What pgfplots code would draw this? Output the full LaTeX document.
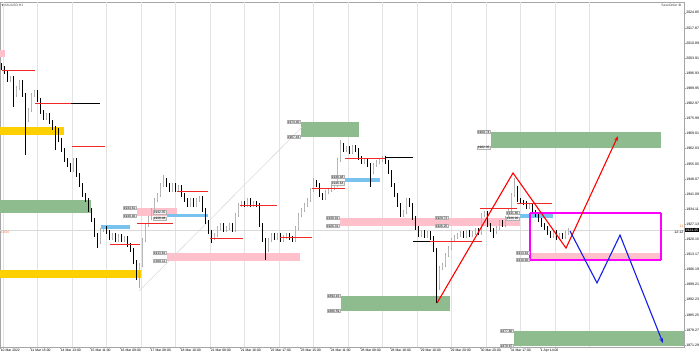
\documentclass[border=0pt]{standalone}
\usepackage{fontspec}
\setmainfont{Liberation Sans}
\newfontfamily\dejavu{DejaVu Sans}
\usepackage{pgfplots}
\pgfplotsset{compat=1.18}
\usepackage{pgfplotstable}
\usetikzlibrary{arrows.meta}
\definecolor{pinkc}{RGB}{255,192,203}
\definecolor{greenc}{RGB}{143,188,143}
\definecolor{bluec}{RGB}{120,194,240}
\definecolor{yellowc}{RGB}{255,208,0}
\definecolor{magc}{RGB}{255,0,255}
\definecolor{redl}{RGB}{240,40,40}
\definecolor{bluel}{RGB}{20,30,230}
\definecolor{orangec}{RGB}{255,110,40}

\pgfplotstableread{
i o h l c
0 2000.5 2001.4 1998.4 1999.3
1 1999.3 2000.2 1996.6 1997.5
2 1997.5 1998.4 1992.8 1993.7
3 1993.7 1995.6 1992.8 1994.7
4 1994.7 1995.6 1981.3 1986.8
5 1986.8 1991.0 1985.9 1990.1
6 1990.1 1993.7 1989.2 1992.8
7 1992.8 1993.7 1985.9 1986.8
8 1986.8 1987.7 1959.1 1975.3
9 1975.3 1980.8 1974.4 1979.9
10 1979.9 1987.7 1979.0 1986.8
11 1986.8 1989.1 1985.9 1988.2
12 1988.2 1989.1 1983.6 1984.5
13 1984.5 1985.4 1978.1 1979.0
14 1979.0 1979.9 1975.3 1976.2
15 1976.2 1978.5 1975.3 1977.6
16 1977.6 1978.5 1973.5 1974.4
17 1974.4 1975.3 1970.7 1971.6
18 1971.6 1972.5 1961.4 1970.7
19 1970.7 1971.6 1965.1 1966.0
20 1966.0 1966.9 1960.5 1961.4
21 1961.4 1962.3 1955.9 1956.8
22 1956.8 1957.7 1953.6 1954.5
23 1954.5 1955.4 1951.3 1952.2
24 1952.2 1957.7 1951.3 1956.8
25 1956.8 1957.7 1949.0 1949.9
26 1949.9 1950.8 1944.3 1945.2
27 1945.2 1946.1 1939.7 1940.6
28 1940.6 1941.5 1937.4 1938.3
29 1938.3 1939.2 1932.8 1933.7
30 1933.7 1934.6 1928.2 1929.1
31 1929.1 1930.0 1921.2 1922.1
32 1922.1 1923.0 1916.1 1918.9
33 1918.9 1925.4 1918.0 1924.5
34 1924.5 1926.3 1923.6 1925.4
35 1925.4 1926.3 1922.6 1923.5
36 1923.5 1924.4 1919.9 1920.8
37 1920.8 1923.0 1919.9 1922.1
38 1922.1 1923.0 1918.9 1919.8
39 1919.8 1922.6 1918.9 1921.7
40 1921.7 1922.6 1918.9 1919.8
41 1919.8 1921.7 1918.9 1920.8
42 1920.8 1921.7 1916.6 1917.5
43 1917.5 1918.4 1914.3 1915.2
44 1915.2 1916.1 1908.8 1909.7
45 1909.7 1910.6 1901.4 1905.1
46 1905.1 1909.2 1897.7 1908.3
47 1908.3 1920.7 1907.4 1919.8
48 1919.8 1927.7 1918.9 1926.8
49 1926.8 1930.9 1925.9 1930.0
50 1930.0 1934.6 1929.1 1933.7
51 1933.7 1939.2 1932.8 1938.3
52 1938.3 1941.5 1937.4 1940.6
53 1940.6 1946.1 1939.7 1945.2
54 1945.2 1949.9 1944.3 1947.6
55 1947.6 1948.5 1944.3 1945.2
56 1945.2 1946.1 1942.0 1942.9
57 1942.9 1946.1 1942.0 1945.2
58 1945.2 1946.1 1942.0 1942.9
59 1942.9 1945.2 1942.0 1944.3
60 1944.3 1945.2 1939.7 1940.6
61 1940.6 1941.5 1937.4 1938.3
62 1938.3 1939.2 1935.1 1936.0
63 1936.0 1939.2 1935.1 1938.3
64 1938.3 1939.2 1935.1 1936.0
65 1936.0 1939.2 1935.1 1938.3
66 1938.3 1940.1 1937.4 1939.2
67 1939.2 1940.1 1932.8 1933.7
68 1933.7 1934.6 1927.3 1928.2
69 1928.2 1929.1 1922.6 1923.5
70 1923.5 1924.4 1918.5 1920.8
71 1920.8 1923.0 1919.9 1922.1
72 1922.1 1926.3 1921.2 1925.4
73 1925.4 1927.7 1924.5 1926.8
74 1926.8 1927.7 1923.6 1924.5
75 1924.5 1926.3 1923.6 1925.4
76 1925.4 1927.7 1924.5 1926.8
77 1926.8 1927.7 1923.6 1924.5
78 1924.5 1932.3 1923.6 1931.4
79 1931.4 1936.9 1930.5 1936.0
80 1936.0 1937.8 1935.1 1936.9
81 1936.9 1937.8 1935.1 1936.0
82 1936.0 1939.2 1935.1 1938.3
83 1938.3 1939.2 1935.1 1936.0
84 1936.0 1937.8 1935.1 1936.9
85 1936.9 1937.8 1935.1 1936.0
86 1936.0 1936.9 1925.9 1926.8
87 1926.8 1927.7 1918.9 1919.8
88 1919.8 1920.7 1910.6 1915.2
89 1915.2 1920.7 1914.3 1919.8
90 1919.8 1923.0 1918.9 1922.1
91 1922.1 1923.0 1919.9 1920.8
92 1920.8 1923.0 1919.9 1922.1
93 1922.1 1923.0 1918.9 1919.8
94 1919.8 1922.1 1918.9 1921.2
95 1921.2 1923.0 1920.3 1922.1
96 1922.1 1923.0 1919.9 1920.8
97 1920.8 1921.7 1918.9 1919.8
98 1919.8 1926.3 1918.9 1925.4
99 1925.4 1932.3 1924.5 1931.4
100 1931.4 1934.6 1930.5 1933.7
101 1933.7 1936.9 1932.8 1936.0
102 1936.0 1939.2 1935.1 1938.3
103 1938.3 1943.8 1937.4 1942.9
104 1942.9 1948.5 1942.0 1946.6
105 1946.6 1947.5 1944.3 1945.2
106 1945.2 1946.1 1939.7 1940.6
107 1940.6 1941.5 1938.3 1939.2
108 1939.2 1942.9 1938.3 1942.0
109 1942.0 1943.8 1941.1 1942.9
110 1942.9 1944.8 1942.0 1943.9
111 1943.9 1946.1 1943.0 1945.2
112 1945.2 1957.7 1944.3 1956.8
113 1956.8 1966.0 1955.9 1963.7
114 1963.7 1964.6 1960.5 1961.4
115 1961.4 1963.2 1960.5 1962.3
116 1962.3 1963.2 1959.6 1960.5
117 1960.5 1963.7 1959.6 1962.8
118 1962.8 1963.7 1960.5 1961.4
119 1961.4 1962.3 1956.8 1957.7
120 1957.7 1958.6 1955.0 1955.9
121 1955.9 1957.7 1955.0 1956.8
122 1956.8 1957.7 1953.6 1954.5
123 1954.5 1955.4 1944.3 1951.2
124 1951.2 1955.4 1950.3 1954.5
125 1954.5 1956.8 1953.6 1955.9
126 1955.9 1957.7 1955.0 1956.8
127 1956.8 1958.6 1955.9 1957.7
128 1957.7 1958.6 1955.0 1955.9
129 1955.9 1956.8 1950.3 1951.2
130 1951.2 1952.1 1944.3 1945.2
131 1945.2 1946.1 1939.7 1940.6
132 1940.6 1941.5 1935.1 1936.0
133 1936.0 1936.9 1930.5 1931.4
134 1931.4 1933.7 1930.5 1932.8
135 1932.8 1939.2 1931.9 1938.3
136 1938.3 1939.2 1935.1 1936.0
137 1936.0 1936.9 1929.1 1930.0
138 1930.0 1930.9 1924.5 1925.4
139 1925.4 1926.3 1921.2 1922.1
140 1922.1 1924.4 1921.2 1923.5
141 1923.5 1924.4 1920.8 1921.7
142 1921.7 1924.0 1920.8 1923.1
143 1923.1 1924.0 1919.9 1920.8
144 1920.8 1921.7 1914.3 1915.2
145 1915.2 1916.1 1890.7 1899.1
146 1899.1 1907.8 1896.7 1906.9
147 1906.9 1909.2 1906.0 1908.3
148 1908.3 1913.8 1907.4 1912.9
149 1912.9 1917.0 1912.0 1916.1
150 1916.1 1920.7 1915.2 1919.8
151 1919.8 1922.1 1918.9 1921.2
152 1921.2 1923.0 1920.3 1922.1
153 1922.1 1924.0 1921.2 1923.1
154 1923.1 1924.0 1920.8 1921.7
155 1921.7 1924.4 1920.8 1923.5
156 1923.5 1924.4 1921.2 1922.1
157 1922.1 1924.0 1921.2 1923.1
158 1923.1 1925.4 1922.2 1924.5
159 1924.5 1925.4 1922.2 1923.1
160 1923.1 1932.3 1922.2 1931.4
161 1931.4 1933.2 1930.5 1932.3
162 1932.3 1933.2 1925.9 1926.8
163 1926.8 1927.7 1923.6 1924.5
164 1924.5 1925.4 1920.8 1923.5
165 1923.5 1926.3 1922.6 1925.4
166 1925.4 1929.1 1924.5 1928.2
167 1928.2 1929.1 1925.9 1926.8
168 1926.8 1930.9 1925.9 1930.0
169 1930.0 1934.6 1929.1 1933.7
170 1933.7 1941.5 1932.8 1940.6
171 1940.6 1948.5 1939.7 1943.9
172 1943.9 1944.8 1937.4 1938.3
173 1938.3 1939.2 1936.5 1937.4
174 1937.4 1938.3 1936.0 1936.9
175 1936.9 1937.8 1934.2 1935.1
176 1935.1 1936.9 1934.2 1936.0
177 1936.0 1936.9 1931.9 1932.8
178 1932.8 1933.7 1930.5 1931.4
179 1931.4 1932.3 1928.2 1929.1
180 1929.1 1930.0 1925.9 1926.8
181 1926.8 1927.7 1924.5 1925.4
182 1925.4 1926.3 1922.2 1923.1
183 1923.1 1924.0 1920.8 1921.7
184 1921.7 1924.4 1920.8 1923.5
185 1923.5 1924.4 1919.9 1920.8
186 1920.8 1923.0 1919.9 1922.1
187 1922.1 1923.0 1920.3 1921.2
188 1921.2 1924.0 1920.3 1923.1
189 1923.1 1925.4 1922.2 1924.5
}\candles

\tikzset{pl/.style={draw=gray!60, fill=gray!10, inner sep=0.4pt, font=\fontsize{3.2}{3.6}\selectfont, anchor=east}}

\begin{document}
\begin{tikzpicture}
\fill[white] (0,0) rectangle (700pt,362pt);
\path[use as bounding box] (0,0) rectangle (700pt,362pt);
\begin{axis}[
  at={(0pt,15pt)}, anchor=south west,
  scale only axis, width=684pt, height=345pt,
  xmin=-0.5, xmax=227.5, ymin=1870.41, ymax=2029.80,
  axis line style={gray!70, line width=0.5pt},
  clip mode=individual,
  xtick={-0.5,9.5,...,179.5},
  xticklabels={10 Mar 2022, 11 Mar 15:00, 14 Mar 13:00, 15 Mar 11:00, 16 Mar 09:00, 17 Mar 08:00, 18 Mar 10:00, 21 Mar 08:00, 21 Mar 16:00, 22 Mar 17:00, 23 Mar 15:00, 24 Mar 11:00, 28 Mar 08:00, 28 Mar 18:00, 29 Mar 10:00, 29 Mar 20:00, 30 Mar 20:00, 31 Mar 17:00, 1 Apr 14:00},
  xticklabel style={anchor=north west, font=\fontsize{3.4}{4}\selectfont, inner sep=0.6pt},
  ytick={2024.85,2017.87,2010.89,2003.91,1996.93,1989.95,1982.97,1975.99,1969.01,1962.03,1955.05,1948.07,1941.09,1934.11,1927.13,1920.15,1913.17,1906.19,1899.21,1892.23,1885.25,1878.27,1871.29},
  yticklabels={2024.85,2017.87,2010.89,2003.91,1996.93,1989.95,1982.97,1975.99,1969.01,1962.03,1955.05,1948.07,1941.09,1934.11,1927.13,1920.15,1913.17,1906.19,1899.21,1892.23,1885.25,1878.27,1871.29},
  yticklabel style={anchor=west, font=\fontsize{3.5}{4}\selectfont, inner sep=0.6pt},
  xtick pos=bottom, ytick pos=right, yticklabel pos=right,
  tick align=outside, major tick length=1.5pt,
  tick style={gray!70, line width=0.4pt},
  extra x ticks={0.5,12,23.5,35,46.5,58,69.5,81,92.5,104,115.5,127,138.5,150,161.5,173,184.5,196},
  extra x tick labels={},
  extra x tick style={grid=major, major grid style={gray!22, line width=0.6pt}, major tick length=0pt},
]
% zones
\addplot[fill=pinkc, draw=none, forget plot] coordinates {(-0.5,2007.6) (1.17,2007.6) (1.17,2004.4) (-0.5,2004.4)} -- cycle;
\addplot[fill=yellowc, draw=none, forget plot] coordinates {(-0.5,1972.0) (20.83,1972.0) (20.83,1968.4) (-0.5,1968.4)} -- cycle;
\addplot[fill=yellowc, draw=none, forget plot] coordinates {(-0.5,1906.0) (46.5,1906.0) (46.5,1902.3) (-0.5,1902.3)} -- cycle;
\addplot[fill=greenc, draw=none, forget plot] coordinates {(-0.5,1938.3) (29.83,1938.3) (29.83,1932.3) (-0.5,1932.3)} -- cycle;
\addplot[fill=greenc, draw=none, forget plot] coordinates {(99.83,1974.4) (119.17,1974.4) (119.17,1967.4) (99.83,1967.4)} -- cycle;
\addplot[fill=greenc, draw=none, forget plot] coordinates {(163.17,1969.7) (219.83,1969.7) (219.83,1962.4) (163.17,1962.4)} -- cycle;
\addplot[fill=greenc, draw=none, forget plot] coordinates {(113.17,1894.0) (149.5,1894.0) (149.5,1887.0) (113.17,1887.0)} -- cycle;
\addplot[fill=greenc, draw=none, forget plot] coordinates {(170.83,1877.8) (227.5,1877.8) (227.5,1870.9) (170.83,1870.9)} -- cycle;
\addplot[fill=pinkc, draw=none, forget plot] coordinates {(45.17,1934.6) (58.5,1934.6) (58.5,1930.9) (45.17,1930.9)} -- cycle;
\addplot[fill=pinkc, draw=none, forget plot] coordinates {(55.17,1913.8) (99.5,1913.8) (99.5,1910.1) (55.17,1910.1)} -- cycle;
\addplot[fill=pinkc, draw=none, forget plot] coordinates {(112.83,1930.0) (172.83,1930.0) (172.83,1926.3) (112.83,1926.3)} -- cycle;
\addplot[fill=pinkc, draw=none, forget plot] coordinates {(176.17,1913.8) (219.83,1913.8) (219.83,1910.6) (176.17,1910.6)} -- cycle;
\addplot[fill=bluec, draw=none, forget plot] coordinates {(33.17,1926.8) (42.83,1926.8) (42.83,1924.9) (33.17,1924.9)} -- cycle;
\addplot[fill=bluec, draw=none, forget plot] coordinates {(55.17,1931.9) (68.83,1931.9) (68.83,1930.5) (55.17,1930.5)} -- cycle;
\addplot[fill=bluec, draw=none, forget plot] coordinates {(114.5,1948.5) (126.17,1948.5) (126.17,1946.6) (114.5,1946.6)} -- cycle;
\addplot[fill=bluec, draw=none, forget plot] coordinates {(172.83,1931.9) (183.83,1931.9) (183.83,1930.0) (172.83,1930.0)} -- cycle;
% price line and faint diagonal
\addplot[gray!30, line width=0.5pt, forget plot] coordinates {(-0.5,1924.45) (227.5,1924.45)};
\addplot[gray!35, line width=0.4pt, forget plot] coordinates {(45.83,1896.3) (100.17,1972.0)};
% candles: bearish
\addplot[draw=none, mark=none, forget plot,
  x filter/.expression={\thisrow{c}<\thisrow{o} ? x : nan},
  error bars/.cd, y dir=both, y explicit, error mark=none,
  error bar style={draw=black, line width=0.5pt}]
  table[x=i, y expr={(\thisrow{h}+\thisrow{l})/2}, y error expr={(\thisrow{h}-\thisrow{l})/2}] {\candles};
\addplot[draw=none, mark=none, forget plot,
  x filter/.expression={\thisrow{c}<\thisrow{o} ? x : nan},
  error bars/.cd, y dir=both, y explicit, error mark=none,
  error bar style={draw=black, line width=1.8pt}]
  table[x=i, y expr={(\thisrow{o}+\thisrow{c})/2}, y error expr={(\thisrow{o}-\thisrow{c})/2}] {\candles};
% candles: bullish
\addplot[draw=none, mark=none, forget plot,
  x filter/.expression={\thisrow{c}<\thisrow{o} ? nan : x},
  error bars/.cd, y dir=both, y explicit, error mark=none,
  error bar style={draw=gray!65, line width=0.5pt}]
  table[x=i, y expr={(\thisrow{h}+\thisrow{l})/2}, y error expr={(\thisrow{h}-\thisrow{l})/2}] {\candles};
\addplot[draw=none, mark=none, forget plot,
  x filter/.expression={\thisrow{c}<\thisrow{o} ? nan : x},
  error bars/.cd, y dir=both, y explicit, error mark=none,
  error bar style={draw=gray!55, line width=1.8pt}]
  table[x=i, y expr={(\thisrow{o}+\thisrow{c})/2}, y error expr={(\thisrow{c}-\thisrow{o})/2}] {\candles};
% magenta frame
\addplot[magc, line width=1.2pt, mark=none, forget plot] coordinates {(176.17,1932.3) (219.83,1932.3)};
\addplot[magc, line width=1.2pt, mark=none, forget plot] coordinates {(219.83,1932.3) (219.83,1910.6)};
\addplot[magc, line width=1.2pt, mark=none, forget plot] coordinates {(219.83,1910.6) (176.17,1910.6)};
\addplot[magc, line width=1.2pt, mark=none, forget plot] coordinates {(176.17,1910.6) (176.17,1932.3)};
% horizontal levels
\addplot[redl, line width=0.6pt, forget plot] coordinates {(0.17,1998.4) (11.17,1998.4)};
\addplot[redl, line width=0.6pt, forget plot] coordinates {(11.17,1983.1) (23.17,1983.1)};
\addplot[black, line width=0.6pt, forget plot] coordinates {(23.17,1983.1) (32.83,1983.1)};
\addplot[redl, line width=0.6pt, forget plot] coordinates {(23.5,1963.3) (34.5,1963.3)};
\addplot[redl, line width=0.6pt, forget plot] coordinates {(36.17,1918.0) (46.17,1918.0)};
\addplot[redl, line width=0.6pt, forget plot] coordinates {(45.17,1927.7) (57.17,1927.7)};
\addplot[redl, line width=0.6pt, forget plot] coordinates {(58.5,1942.5) (68.83,1942.5)};
\addplot[redl, line width=0.6pt, forget plot] coordinates {(69.5,1920.8) (80.5,1920.8)};
\addplot[redl, line width=0.6pt, forget plot] coordinates {(79.5,1936.0) (91.83,1936.0)};
\addplot[redl, line width=0.6pt, forget plot] coordinates {(92.83,1921.2) (103.5,1921.2)};
\addplot[redl, line width=0.6pt, forget plot] coordinates {(103.5,1943.9) (114.5,1943.9)};
\addplot[redl, line width=0.6pt, forget plot] coordinates {(114.5,1957.7) (127.83,1957.7)};
\addplot[black, line width=0.6pt, forget plot] coordinates {(127.83,1958.2) (137.17,1958.2)};
\addplot[black, line width=0.6pt, forget plot] coordinates {(137.17,1919.4) (142.83,1919.4)};
\addplot[redl, line width=0.6pt, forget plot] coordinates {(142.83,1919.4) (160.17,1919.4)};
\addplot[redl, line width=0.6pt, forget plot] coordinates {(159.5,1934.6) (171.83,1934.6)};
\addplot[redl, line width=0.6pt, forget plot] coordinates {(171.83,1936.9) (183.5,1936.9)};
% scenario paths
\addplot[red, line width=1.1pt, -{Stealth[length=5pt,width=3.5pt]}, forget plot] coordinates {(145.17,1890.7) (170.5,1950.8) (188.17,1916.1) (205.5,1967.9)};
\addplot[bluel, line width=1.1pt, -{Stealth[length=5pt,width=3.5pt]}, forget plot] coordinates {(189.5,1924.0) (198.5,1900.0) (206.17,1922.1) (220.5,1872.2)};
% price tags
\node[pl] at (axis cs:44.83,1934.6) {1934.61};
\node[pl] at (axis cs:44.83,1930.9) {1930.92};
\node[pl] at (axis cs:54.83,1932.7) {1932.35};
\node[pl] at (axis cs:54.83,1929.8) {1930.48};
\node[pl] at (axis cs:54.83,1913.8) {1913.81};
\node[pl] at (axis cs:54.83,1910.1) {1910.11};
\node[pl] at (axis cs:99.5,1974.4) {1974.40};
\node[pl] at (axis cs:99.5,1967.4) {1967.43};
\node[pl] at (axis cs:114.17,1948.9) {1948.48};
\node[pl] at (axis cs:114.17,1946.1) {1946.63};
\node[pl] at (axis cs:112.5,1930.0) {1930.01};
\node[pl] at (axis cs:112.5,1926.3) {1926.31};
\node[pl] at (axis cs:112.83,1894.0) {1894.16};
\node[pl] at (axis cs:112.83,1887.0) {1886.59};
\node[pl] at (axis cs:148.83,1930.0) {1929.72};
\node[pl] at (axis cs:148.83,1926.3) {1926.25};
\node[pl] at (axis cs:162.83,1969.7) {1969.74};
\node[pl] at (axis cs:162.83,1962.4) {1962.35};
\node[pl] at (axis cs:172.5,1932.3) {1931.85};
\node[pl] at (axis cs:172.5,1929.6) {1930.00};
\node[pl] at (axis cs:175.83,1913.8) {1913.81};
\node[pl] at (axis cs:175.83,1910.6) {1910.60};
\node[pl] at (axis cs:170.5,1877.8) {1877.80};
\node[pl] at (axis cs:170.5,1870.9) {1870.87};
% texts
\node[anchor=west, text=orangec, inner sep=0.5pt, font=\fontsize{3.5}{4}\selectfont] at (axis cs:-0.4,1923.2) {1934};
\node[anchor=east, text=orangec, inner sep=0.3pt, font=\fontsize{3.5}{4}\selectfont] at (axis cs:227.4,1926.2) {11};
\node[anchor=east, text=black, inner sep=0.3pt, font=\fontsize{3.5}{4}\selectfont] at (axis cs:227.4,1923.2) {12:12};
\node[anchor=west, fill=black, text=white, inner sep=0.6pt, font=\fontsize{3.5}{4}\selectfont, xshift=0.6pt] at (axis cs:227.5,1924.45) {1924.45};
\node[anchor=north west, inner sep=0.5pt, text=gray!50!black, font=\fontsize{3.3}{4}\selectfont, xshift=1pt, yshift=-1pt] at (rel axis cs:0,1) {{\dejavu\fontsize{2.6}{3}\selectfont ▼}\,XAUUSD,H1};
\node[anchor=north east, inner sep=0.5pt, text=gray!50!black, font=\fontsize{3.3}{4}\selectfont, xshift=-2pt, yshift=-1pt] at (rel axis cs:1,1) {SaveOrder {\dejavu ⚙}};
\end{axis}
\end{tikzpicture}
\end{document}
